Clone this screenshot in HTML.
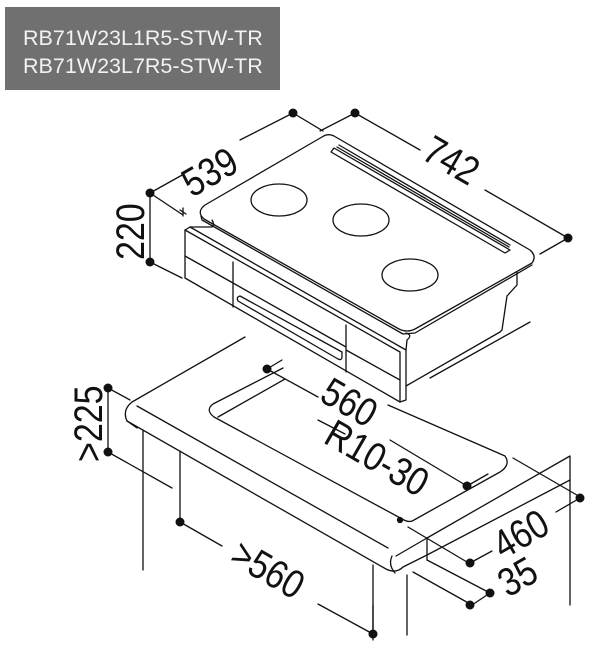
<!DOCTYPE html>
<html><head><meta charset="utf-8"><style>
html,body{margin:0;padding:0;background:#fff;}
svg{display:block;}
.l{fill:none;stroke:#111;stroke-width:1.3;stroke-linejoin:round;stroke-linecap:round}
.t{font-family:"Liberation Sans",sans-serif;font-size:40px;fill:#111}
</style></head><body>
<svg width="600" height="661" viewBox="0 0 600 661" xmlns="http://www.w3.org/2000/svg">
<rect x="5" y="7" width="275" height="83" fill="#707070"/>
<text x="23" y="45" font-family="Liberation Sans,sans-serif" font-size="21.5" fill="#f2f2f2">RB71W23L1R5-STW-TR</text>
<text x="23" y="73" font-family="Liberation Sans,sans-serif" font-size="21.5" fill="#f2f2f2">RB71W23L7R5-STW-TR</text>

<g class="l">
<path d="M205,205 L322,137 Q328,133 334,136 L530,250 Q537,256 532,263 L415,329 Q407,333 399,329 L204,219 Q196,212 205,205 Z"/>
<path d="M201,216 L202,220 L403,334 L415,333 L532,265"/>
<path d="M334,148 L510,250 L505,253 L331,152 Z"/>
<path d="M337,147 L509,247 M339,145 L510,245"/>
<path d="M421,196 L425,198"/>
<ellipse cx="279" cy="200" rx="28" ry="16"/>
<ellipse cx="361" cy="220" rx="28" ry="16"/>
<ellipse cx="410" cy="275" rx="28" ry="16"/>
<path d="M185,230 L190,227 L406,350 L406,400 L400,402 L400,352 L185,230 Z"/>
<path d="M185,230 L185,278 L400,402"/>
<path d="M190,227 L212,227 Q215,225 212,220"/>
<path d="M185,256 L233,283 M233,262 L233,307 M346,325 L346,372 M346,350 L400,380"/>
<path d="M240,296 Q236,297 238,301 L338,359 Q342,361 342,356 L342,352 L240,296 Z"/>
<path d="M233,283 L346,347"/>
<path d="M406,350 L407,340 Q413,335 406,333"/>
<path d="M517,272 L517,285 L507,296 L502,330 L500,332 L406,386"/>
<path d="M430,378 L530,322"/>
<path d="M150,193 L184,174 M240,140 L293,113 L323,131"/>
<path d="M150,193 L150,262 M150,193 L183,215 M150,262 L182,278 M180,210 L186,214 M183,208 L183,216"/>
<path d="M355,113 L320,131 M355,113 L420,150 M485,190 L568,238 L540,254"/>
<path d="M245,337 L132,402 Q122,410 127,421 L137,428"/>
<path d="M137,406 L388,548"/>
<path d="M127,421 L386,569 Q396,574 403,567 L427,555 L570,480 L570,456 L427,538"/>
<path d="M392,556 Q388,565 395,573"/>
<path d="M427,538 L427,560 M427,538 L396,556"/>
<path d="M283,368 L213,404 Q205,410 214,417 L404,520 Q410,523 414,520 L500,472 Q511,465 505,456 L388,405"/>
<path d="M218,417 L285,379"/>
<path d="M267,369 L282,360 M267,369 L318,397 M390,440 L467,486 L488,474 M318,420 L345,434"/>
<circle cx="400" cy="520" r="2.5" fill="#111"/>
<path d="M143,430 L143,570 M180,451 L180,522 M373,565 L373,640 M407,575 L407,635 M570,480 L570,605"/>
<path d="M108,388 L108,452 M108,388 L130,400 M108,452 L172,488"/>
<path d="M180,522 L222,546 M318,604 L373,634 M373,605 L373,634"/>
<path d="M513,458 L582,498 M580,498 L556,512 M470,563 L492,551 M408,527 L472,565"/>
<path d="M427,560 L490,593 M413,572 L472,605 L490,593"/>
</g>
<g fill="#111">
<circle cx="150" cy="193" r="4.5"/><circle cx="293" cy="113" r="4.5"/>
<circle cx="355" cy="113" r="4.5"/><circle cx="568" cy="238" r="4.5"/>
<circle cx="150" cy="262" r="4.5"/>
<circle cx="267" cy="369" r="4.5"/><circle cx="467" cy="486" r="4.5"/>
<circle cx="108" cy="388" r="4.5"/><circle cx="108" cy="452" r="4.5"/>
<circle cx="180" cy="522" r="4.5"/><circle cx="373" cy="634" r="4.5"/>
<circle cx="580" cy="498" r="4.5"/><circle cx="470" cy="563" r="4.5"/>
<circle cx="490" cy="593" r="4.5"/><circle cx="470" cy="605" r="4.5"/>
</g>
<text class="t" transform="translate(192,198) rotate(-30) scale(0.85,1)">539</text>
<text class="t" transform="translate(420,158) rotate(30) scale(0.85,1)">742</text>
<text class="t" transform="translate(144,260) rotate(-90) scale(0.85,1)">220</text>
<text class="t" transform="translate(318,400) rotate(30) scale(0.85,1)">560</text>
<text class="t" transform="translate(322,442) rotate(30) scale(0.85,1)">R10-30</text>
<text class="t" transform="translate(102,462) rotate(-90) scale(0.85,1)">&gt;225</text>
<text class="t" transform="translate(228,562) rotate(30) scale(0.85,1)">&gt;560</text>
<text class="t" transform="translate(503,560) rotate(-30) scale(0.85,1)">460</text>
<text class="t" transform="translate(508,598) rotate(-30) scale(0.85,1)">35</text>
</svg>
</body></html>
